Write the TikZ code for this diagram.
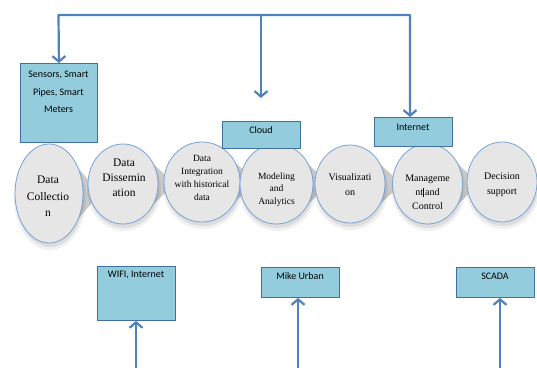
\documentclass[tikz,border=0pt]{standalone}
\usepackage{fontspec}
\setmainfont{Liberation Serif}
\newfontfamily\boxfont{Carlito}
\usetikzlibrary{arrows.meta,shapes.geometric}
\definecolor{boxfill}{HTML}{93CDDD}
\definecolor{boxline}{HTML}{41719C}
\definecolor{arrowblue}{HTML}{4F81BD}
\definecolor{ringblue}{HTML}{7AA2D6}
\definecolor{discfill}{HTML}{E6E6E6}
\definecolor{wedgegray}{HTML}{CACACA}

\begin{document}
\begin{tikzpicture}[x=1pt,y=-1pt,
  infobox/.style={draw=boxline,line width=0.9pt,fill=boxfill,inner sep=0pt,anchor=north west},
  boxtext/.style={font=\boxfont\fontsize{10}{17.5}\selectfont,align=center,inner sep=0pt},
  disc/.style={ellipse,draw=ringblue,line width=0.8pt,fill=discfill,inner sep=0pt},
  disctext/.style={align=center,inner sep=0pt},
  flow/.style={draw=arrowblue,line width=2.2pt,line join=round,
    -{Straight Barb[length=5.5pt,width=13pt]}},
  flowboth/.style={draw=arrowblue,line width=2.2pt,line join=round,
    {Straight Barb[length=5.5pt,width=13pt]}-{Straight Barb[length=5.5pt,width=13pt]}},
]
\useasboundingbox (0,0) rectangle (537,367);

% process stages: centre x, centre y, half width, half height
\foreach \cx/\cy/\rx/\ry [count=\i] in
  {49/193.5/34/49.5, 123/184/35/40, 202/182/38/40, 276.5/184/36.5/40,
   350/184/35/39, 427.5/184/35/40}{
  % grey pointer behind each stage, towards the next one
  \fill[wedgegray] (\cx+0.5*\rx,\cy-0.8*\ry) -- (\cx+\rx+17,\cy) -- (\cx+0.5*\rx,\cy+0.8*\ry) -- cycle;
}
% soft shadows below the stages
\foreach \cx/\cy/\rx/\ry in
  {49/193.5/34/49.5, 123/184/35/40, 202/182/38/40, 276.5/184/36.5/40,
   350/184/35/39, 427.5/184/35/40, 502/182/35/40}{
  \fill[black,opacity=0.06] (\cx+1,\cy+5) ellipse [x radius=\rx+2, y radius=\ry+2];
  \fill[black,opacity=0.08] (\cx+1,\cy+4) ellipse [x radius=\rx, y radius=\ry];
}

% stages
\node[disc,minimum width=68pt,minimum height=99pt] (c1) at (49,193.5) {};
\node[disc,minimum width=70pt,minimum height=80pt] (c2) at (123,184) {};
\node[disc,minimum width=76pt,minimum height=80pt] (c3) at (202,182) {};
\node[disc,minimum width=73pt,minimum height=80pt] (c4) at (276.5,184) {};
\node[disc,minimum width=70pt,minimum height=78pt] (c5) at (350,184) {};
\node[disc,minimum width=70pt,minimum height=80pt] (c6) at (427.5,184) {};
\node[disc,minimum width=70pt,minimum height=80pt] (c7) at (502,182) {};

\node[disctext,font=\fontsize{11.5}{16.5}\selectfont] (l1) at (48,196.5) {Data\\Collectio\\n};
\node[disctext,font=\fontsize{11.5}{15}\selectfont] (l2) at (124,178) {Data\\Dissemin\\ation};
\node[disctext,font=\fontsize{9.5}{13}\selectfont] (l3) at (202,177.5) {Data\\Integration\\with historical\\data};
\node[disctext,font=\fontsize{9.5}{12.5}\selectfont] (l4) at (276.5,189.5) {Modeling\\and\\Analytics};
\node[disctext,font=\fontsize{10}{15}\selectfont] (l5) at (350,184.5) {Visualizati\\on};
\node[disctext,font=\fontsize{10}{14}\selectfont] (l6) at (427.5,192) {Manageme\\nt\rule[-1.5pt]{0.4pt}{9pt}\,and\\Control};
\node[disctext,font=\fontsize{10}{15}\selectfont] (l7) at (502,184.5) {Decision\\support};

% technology boxes
\node[infobox,minimum width=77pt,minimum height=79pt] (sensors) at (20,63) {};
\node[boxtext] (sensorsT) at (58.5,92) {Sensors, Smart\\Pipes, Smart\\Meters};
\node[infobox,minimum width=78pt,minimum height=27pt] (cloud) at (222,121) {};
\node[boxtext] (cloudT) at (261,130) {Cloud};
\node[infobox,minimum width=78pt,minimum height=29pt] (inet) at (374,117) {};
\node[boxtext] (inetT) at (413,127) {Internet};
\node[infobox,minimum width=78pt,minimum height=54pt] (wifi) at (97,266) {};
\node[boxtext] (wifiT) at (136,275) {WIFI, Internet};
\node[infobox,minimum width=78pt,minimum height=30pt] (mike) at (261,267) {};
\node[boxtext] (mikeT) at (300,276) {Mike Urban};
\node[infobox,minimum width=78pt,minimum height=30pt] (scada) at (456,267) {};
\node[boxtext] (scadaT) at (495,276) {SCADA};

% distribution bus along the top
\coordinate (busL) at (58.5,15);
\coordinate (busM) at (261,15);
\coordinate (busR) at (410,15);
\coordinate (cloudTip) at (261,98);
\draw[flowboth] (sensors.north) -- (busL) -- (busR) -- (inet.north -| busR);
\draw[flow] (busM) -- (cloudTip);

% feeds from below
\coordinate (wifiFoot) at (136,370);
\coordinate (mikeFoot) at (298,370);
\coordinate (scadaFoot) at (500,370);
\draw[flow] (wifiFoot) -- (wifi.south -| wifiFoot);
\draw[flow] (mikeFoot) -- (mike.south -| mikeFoot);
\draw[flow] (scadaFoot) -- (scada.south -| scadaFoot);
\end{tikzpicture}
\end{document}
